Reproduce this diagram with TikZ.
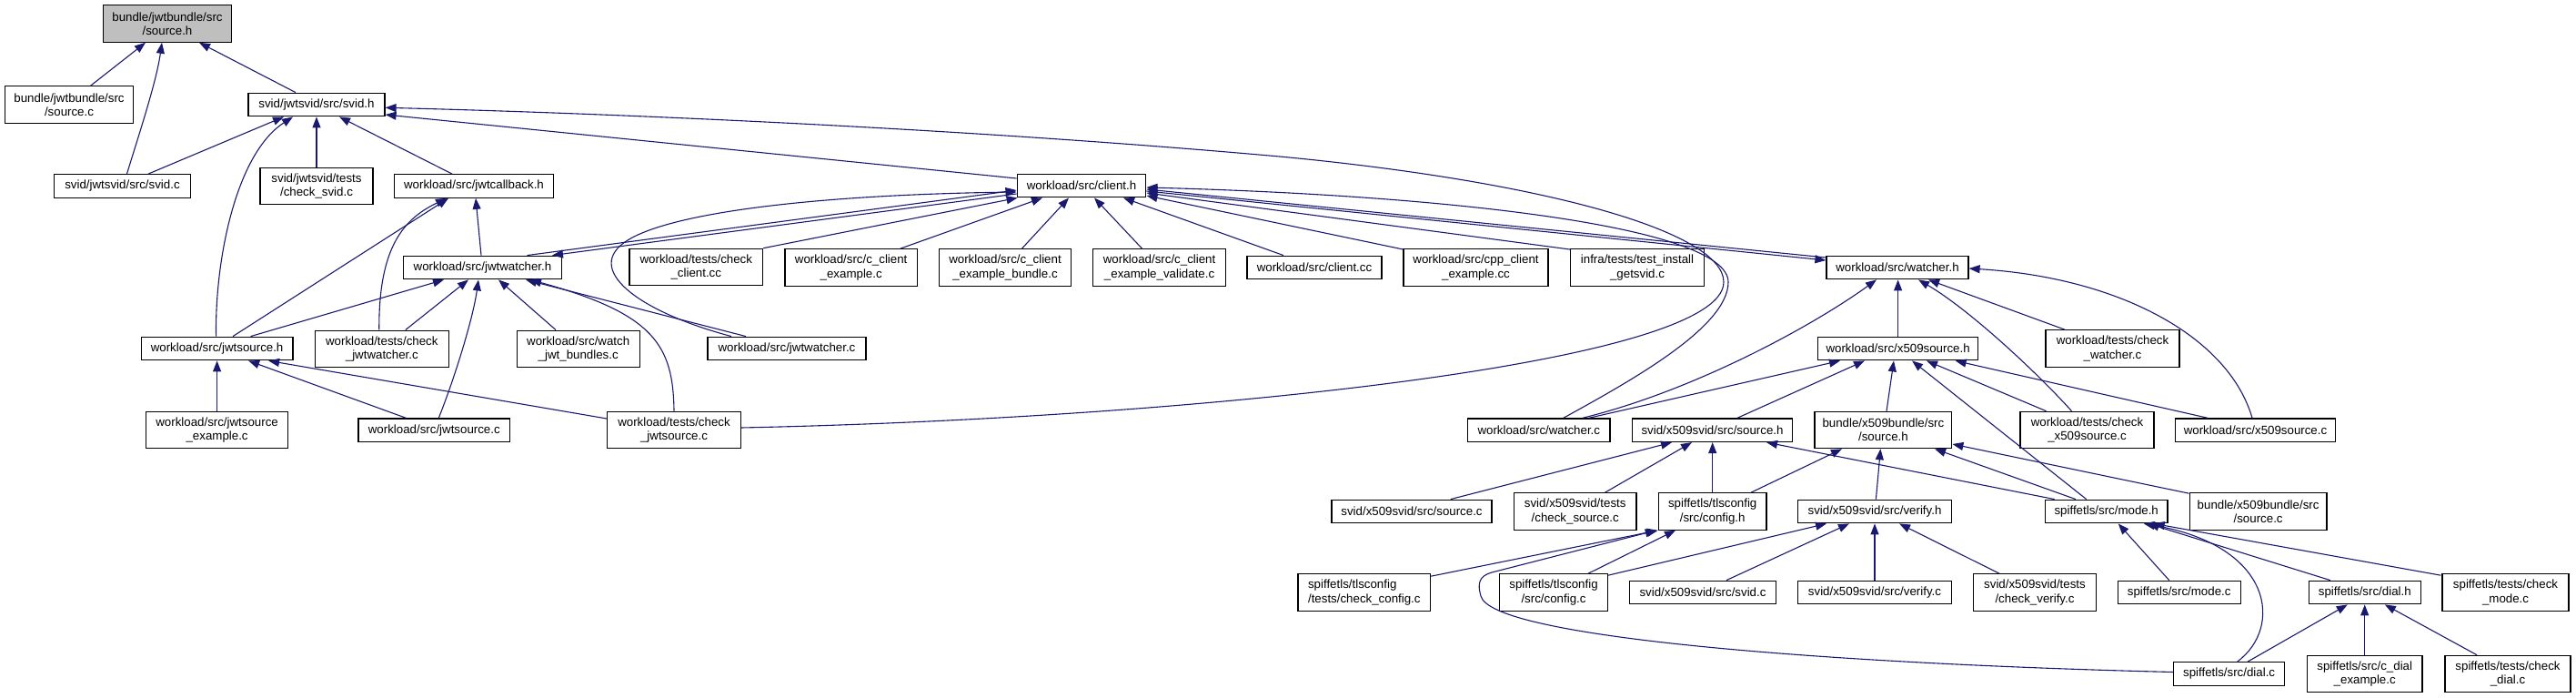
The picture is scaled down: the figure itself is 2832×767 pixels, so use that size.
\documentclass[tikz,border=0pt]{standalone}
\usepackage{fontspec}
\setmainfont{Liberation Sans}
\usetikzlibrary{arrows.meta,calc}
\definecolor{edgec}{RGB}{25,25,112}
\definecolor{rootfill}{RGB}{191,191,191}
\newcommand\nodefont{\fontsize{13.3}{15.3}\selectfont}
\begin{document}
\begin{tikzpicture}[x=1pt,y=-1pt,
  box/.style={draw=black, line width=1.2pt, fill=white, inner sep=0pt, align=center, font=\nodefont, minimum height=25.6pt},
  tall/.style={minimum height=40.4pt},
  e/.style={draw=edgec, line width=1.1pt, -{Triangle[length=12pt,width=9pt]}}]
\useasboundingbox (0,0) rectangle (2832,767);
% nodes
\node[box,tall,fill=rootfill,minimum width=141pt] (n0) at (184,26) {bundle/jwtbundle/src\\/source.h};
\node[box,tall,minimum width=141pt] (jbsrcc) at (76,115) {bundle/jwtbundle/src\\/source.c};
\node[box,minimum width=150pt] (svidh) at (348,115) {svid/jwtsvid/src/svid.h};
\node[box,minimum width=150pt] (svidc) at (134.5,204.5) {svid/jwtsvid/src/svid.c};
\node[box,tall,minimum width=124pt] (chksvid) at (348,204.5) {svid/jwtsvid/tests\\/check\_svid.c};
\node[box,minimum width=175pt] (jwtcb) at (521,204.5) {workload/src/jwtcallback.h};
\node[box,minimum width=173.5pt] (jwtwh) at (530.5,294) {workload/src/jwtwatcher.h};
\node[box,minimum width=166.7pt] (jwtsh) at (238.6,383) {workload/src/jwtsource.h};
\node[box,tall,minimum width=146.7pt] (chkjwtw) at (419.8,383.3) {workload/tests/check\\\_jwtwatcher.c};
\node[box,tall,minimum width=135pt] (watchjwt) at (635.7,383.3) {workload/src/watch\\\_jwt\_bundles.c};
\node[box,tall,minimum width=146.6pt] (chkclient) at (765.3,293.5) {workload/tests/check\\\_client.cc};
\node[box,minimum width=141.7pt] (clienth) at (1189,204) {workload/src/client.h};
\node[box,tall,minimum width=145.4pt] (ccex) at (935.7,294) {workload/src/c\_client\\\_example.c};
\node[box,tall,minimum width=145pt] (ccexb) at (1105,294) {workload/src/c\_client\\\_example\_bundle.c};
\node[box,tall,minimum width=145.8pt] (ccexv) at (1274.6,294) {workload/src/c\_client\\\_example\_validate.c};
\node[box,minimum width=148pt] (clientcc) at (1445,294) {workload/src/client.cc};
\node[box,minimum width=174pt] (jwtwc) at (865,383) {workload/src/jwtwatcher.c};
\node[box,tall,minimum width=159pt] (cppex) at (1622.5,294) {workload/src/cpp\_client\\\_example.cc};
\node[box,tall,minimum width=146.7pt] (testinst) at (1800,294) {infra/tests/test\_install\\\_getsvid.c};
\node[box,minimum width=156pt] (watcherh) at (2086,294) {workload/src/watcher.h};
\node[box,minimum width=176pt] (x509h) at (2086.6,383) {workload/src/x509source.h};
\node[box,tall,minimum width=147pt] (chkwatcher) at (2322.5,383) {workload/tests/check\\\_watcher.c};
\node[box,tall,minimum width=155.8pt] (jwtsex) at (238.6,472.5) {workload/src/jwtsource\\\_example.c};
\node[box,minimum width=166.6pt] (jwtsc) at (477.3,472.7) {workload/src/jwtsource.c};
\node[box,tall,minimum width=146.7pt] (chkjwts) at (741,472.5) {workload/tests/check\\\_jwtsource.c};
\node[box,minimum width=156.2pt] (watcherc) at (1691.8,472.7) {workload/src/watcher.c};
\node[box,minimum width=176pt] (xsvsrch) at (1882.5,472.7) {svid/x509svid/src/source.h};
\node[box,tall,minimum width=150.8pt] (xbsrch) at (2070.4,472.5) {bundle/x509bundle/src\\/source.h};
\node[box,tall,minimum width=147pt] (chkx509) at (2294.5,472.5) {workload/tests/check\\\_x509source.c};
\node[box,minimum width=176.5pt] (x509c) at (2479.5,472.7) {workload/src/x509source.c};
\node[box,minimum width=176pt] (xsvsrcc) at (1552,562) {svid/x509svid/src/source.c};
\node[box,tall,minimum width=134.5pt] (chksrc) at (1731.7,562) {svid/x509svid/tests\\/check\_source.c};
\node[box,tall,minimum width=118.6pt] (configh) at (1882.7,562) {spiffetls/tlsconfig\\/src/config.h};
\node[box,minimum width=168.4pt] (verifyh) at (2061,562) {svid/x509svid/src/verify.h};
\node[box,minimum width=134.5pt] (modeh) at (2315.7,562) {spiffetls/src/mode.h};
\node[box,tall,minimum width=150.8pt] (xbsrcc) at (2482.6,562) {bundle/x509bundle/src\\/source.c};
\node[box,tall,minimum width=145.5pt,align=left] (chkconfig) at (1499.8,651) {spiffetls/tlsconfig\\/tests/check\_config.c};
\node[box,tall,minimum width=118.6pt] (configc) at (1708,651) {spiffetls/tlsconfig\\/src/config.c};
\node[box,minimum width=161.7pt] (xsvsvidc) at (1872,651) {svid/x509svid/src/svid.c};
\node[box,minimum width=168.4pt] (verifyc) at (2061,651) {svid/x509svid/src/verify.c};
\node[box,tall,minimum width=134.5pt] (chkverify) at (2237,651) {svid/x509svid/tests\\/check\_verify.c};
\node[box,minimum width=135pt] (modec) at (2395.7,651) {spiffetls/src/mode.c};
\node[box,minimum width=122.8pt] (dialh) at (2599.8,651) {spiffetls/src/dial.h};
\node[box,tall,minimum width=139pt] (chkmode) at (2754.5,651) {spiffetls/tests/check\\\_mode.c};
\node[box,minimum width=122.4pt] (dialc) at (2450.6,740.5) {spiffetls/src/dial.c};
\node[box,tall,minimum width=126.5pt] (cdialex) at (2599.7,740.5) {spiffetls/src/c\_dial\\\_example.c};
\node[box,tall,minimum width=138pt] (chkdial) at (2757,740.5) {spiffetls/tests/check\\\_dial.c};
% edges: top part
\draw[e] ($(jbsrcc.north)+(23.6,0)$) -- ($(n0.south)+(-24,0)$);
\draw[e] ($(svidc.north)+(5,0)$) .. controls (152,150) and (172,90) .. ($(n0.south)+(-6,0)$);
\draw[e] ($(svidh.north)+(-23,0)$) -- ($(n0.south)+(35,0)$);
\draw[e] ($(svidc.north)+(28.5,0)$) -- ($(svidh.south)+(-36,0)$);
\draw[e] ($(jwtsh.north)+(-1,0)$) .. controls (236,290) and (258,170) .. ($(svidh.south)+(-26,0)$);
\draw[e] (chksvid.north) -- (svidh.south);
\draw[e] ($(jwtcb.north)+(-24,0)$) -- ($(svidh.south)+(25,0)$);
\draw[e] ($(clienth.west)+(0,-8)$) -- ($(svidh.east)+(0,11)$);
\draw[e] ($(chkjwts.east)+(0,-2.5)$) .. controls (1300,460) and (1895,400) .. (1895,310)
  .. controls (1895,255) and (1700,200) .. (1410,172.3)
  .. controls (1050,140) and (650,124) .. ($(svidh.east)+(0,3.3)$);
\draw[e] ($(watcherc.north)+(27,0)$) .. controls (1790,420) and (1900,360) .. (1900,310)
  .. controls (1900,250) and (1600,215) .. ($(clienth.east)+(0,2)$);
% client.h
\draw[e] ($(jwtwc.north)+(-61,0)$) .. controls (700,342) and (640,295) .. (690,264)
  .. controls (740,233) and (900,214) .. ($(clienth.west)+(0,7)$);
\draw[e] ($(jwtwh.north)+(49,0)$) -- ($(clienth.west)+(0,5)$);
\draw[e] ($(clienth.west)+(0,9)$) -- ($(jwtwh.north)+(76.5,0)$);
\draw[e] (chkclient.north east) -- ($(clienth.south west)+(1,0)$);
\draw[e] ($(ccex.north)+(54,0)$) -- ($(clienth.south)+(-43,0)$);
\draw[e] ($(ccexb.north)+(18.4,0)$) -- ($(clienth.south)+(-14,0)$);
\draw[e] ($(ccexv.north)+(-19,0)$) -- ($(clienth.south)+(14,0)$);
\draw[e] ($(clientcc.north)+(-34,0)$) -- ($(clienth.south)+(46,0)$);
\draw[e] ($(cppex.north west)+(1,1)$) -- ($(clienth.east)+(0,11)$);
\draw[e] ($(testinst.north west)+(1,1)$) -- ($(clienth.east)+(0,8)$);
\draw[e] ($(watcherh.west)+(0,-11)$) -- ($(clienth.east)+(0,4)$);
\draw[e] ($(clienth.east)+(0,6)$) -- ($(watcherh.west)+(0,-8)$);
% watcher.h / x509source.h
\draw[e] ($(watcherc.north)+(48,0)$) .. controls (1860,430) and (1990,360) .. ($(watcherh.south)+(-23,0)$);
\draw[e] ($(watcherc.north)+(55,0)$) -- ($(x509h.south)+(-63.6,0)$);
\draw[e] ($(xsvsrch.north)+(27.5,0)$) -- ($(x509h.south)+(-36.6,0)$);
\draw[e] ($(xbsrch.north)+(3.6,0)$) -- ($(x509h.south)+(-4.6,0)$);
\draw[e] ($(modeh.north)+(-22,0)$) -- ($(x509h.south)+(15.4,0)$);
\draw[e] ($(chkx509.north)+(-45,0)$) -- ($(x509h.south)+(31.4,0)$);
\draw[e] ($(x509c.north)+(-52.5,0)$) -- ($(x509h.south)+(63,0)$);
\draw[e] (x509h.north) -- (x509h.north |- watcherh.south);
\draw[e] ($(chkwatcher.north)+(-52.5,0)$) -- ($(watcherh.south)+(34,0)$);
\draw[e] ($(chkx509.north)+(-17,0)$) .. controls (2240,410) and (2165,340) .. ($(watcherh.south)+(23,0)$);
\draw[e] ($(x509c.north)+(-3.5,0)$) .. controls (2450,370) and (2330,305) .. ($(watcherh.east)+(0,1)$);
% x509svid / x509bundle source.h
\draw[e] ($(xsvsrcc.north)+(42.7,0)$) -- ($(xsvsrch.south)+(-44.5,0)$);
\draw[e] ($(chksrc.north)+(32.8,0)$) -- ($(xsvsrch.south)+(-22.5,0)$);
\draw[e] (configh.north) -- (configh.north |- xsvsrch.south);
\draw[e] ($(modeh.north)+(-57,0)$) -- ($(xsvsrch.south)+(59.5,0)$);
\draw[e] ($(configh.north)+(42.3,0)$) -- ($(xbsrch.south)+(-45.4,0)$);
\draw[e] ($(verifyh.north)+(1.4,0)$) -- ($(xbsrch.south)+(-3,0)$);
\draw[e] ($(modeh.north)+(-33.7,0)$) -- ($(xbsrch.south)+(56.6,0)$);
\draw[e] ($(xbsrcc.north west)+(0,1)$) -- ($(xbsrch.east)+(0,15.5)$);
% config.h
\draw[e] ($(chkconfig.north east)+(0,3)$) -- (configh.south west);
\draw[e] ($(configc.north)+(38,0)$) -- ($(configh.south)+(-40.7,0)$);
\draw[e] ($(dialc.west)+(0,-2)$) .. controls (2000,729) and (1640,700) .. (1628,655)
  .. controls (1624,641) and (1626,633) .. (1640,629) -- ($(configh.south west)+(-2,0)$);
% verify.h
\draw[e] ($(configc.north east)+(0,2)$) -- ($(verifyh.south)+(-53,0)$);
\draw[e] ($(xsvsvidc.north)+(26,0)$) -- ($(verifyh.south)+(-28,0)$);
\draw[e] (verifyc.north) -- (verifyh.south);
\draw[e] ($(chkverify.north)+(-39,0)$) -- ($(verifyh.south)+(27,0)$);
% mode.h / dial.h
\draw[e] ($(modec.north)+(-11,0)$) -- ($(modeh.south)+(13,0)$);
\draw[e] ($(dialh.north)+(-38,0)$) -- ($(modeh.south)+(46,0)$);
\draw[e] ($(chkmode.north west)+(-1,2)$) -- ($(modeh.south)+(52,0)$);
\draw[e] ($(dialc.north)+(9,0)$) .. controls (2510,690) and (2500,600) .. ($(modeh.south)+(41,0)$);
\draw[e] ($(dialc.north)+(20.4,0)$) -- ($(dialh.south)+(-19,0)$);
\draw[e] (cdialex.north) -- (cdialex.north |- dialh.south);
\draw[e] ($(chkdial.north)+(-34,0)$) -- ($(dialh.south)+(22,0)$);
% jwt side
\draw[e] ($(jwtsh.north)+(17.4,0)$) -- ($(jwtcb.south)+(-28,0)$);
\draw[e] ($(chkjwtw.north)+(-3,0)$) .. controls (416,270) and (445,240) .. ($(jwtcb.south)+(-30,0)$);
\draw[e] ($(jwtwh.north)+(-1.5,0)$) -- ($(jwtcb.south)+(2,0)$);
\draw[e] ($(jwtsh.north)+(37,0)$) -- ($(jwtwh.south)+(-42.5,0)$);
\draw[e] ($(chkjwtw.north)+(26,0)$) -- ($(jwtwh.south)+(-15.5,0)$);
\draw[e] ($(jwtsc.north)+(5,0)$) .. controls (500,415) and (520,350) .. ($(jwtwh.south)+(-4.5,0)$);
\draw[e] ($(watchjwt.north)+(-24.7,0)$) -- ($(jwtwh.south)+(17.5,0)$);
\draw[e] ($(jwtwc.north)+(-45,0)$) -- ($(jwtwh.south)+(47.5,0)$);
\draw[e] (chkjwts.north) .. controls (740,380) and (720,345) .. ($(jwtwh.south)+(52.5,0)$);
\draw[e] (jwtsex.north) -- (jwtsh.south);
\draw[e] ($(jwtsc.north)+(-31,0)$) -- ($(jwtsh.south)+(34.5,0)$);
\draw[e] ($(chkjwts.west)+(0,-12.5)$) -- ($(jwtsh.south)+(56.5,0)$);
\end{tikzpicture}
\end{document}
